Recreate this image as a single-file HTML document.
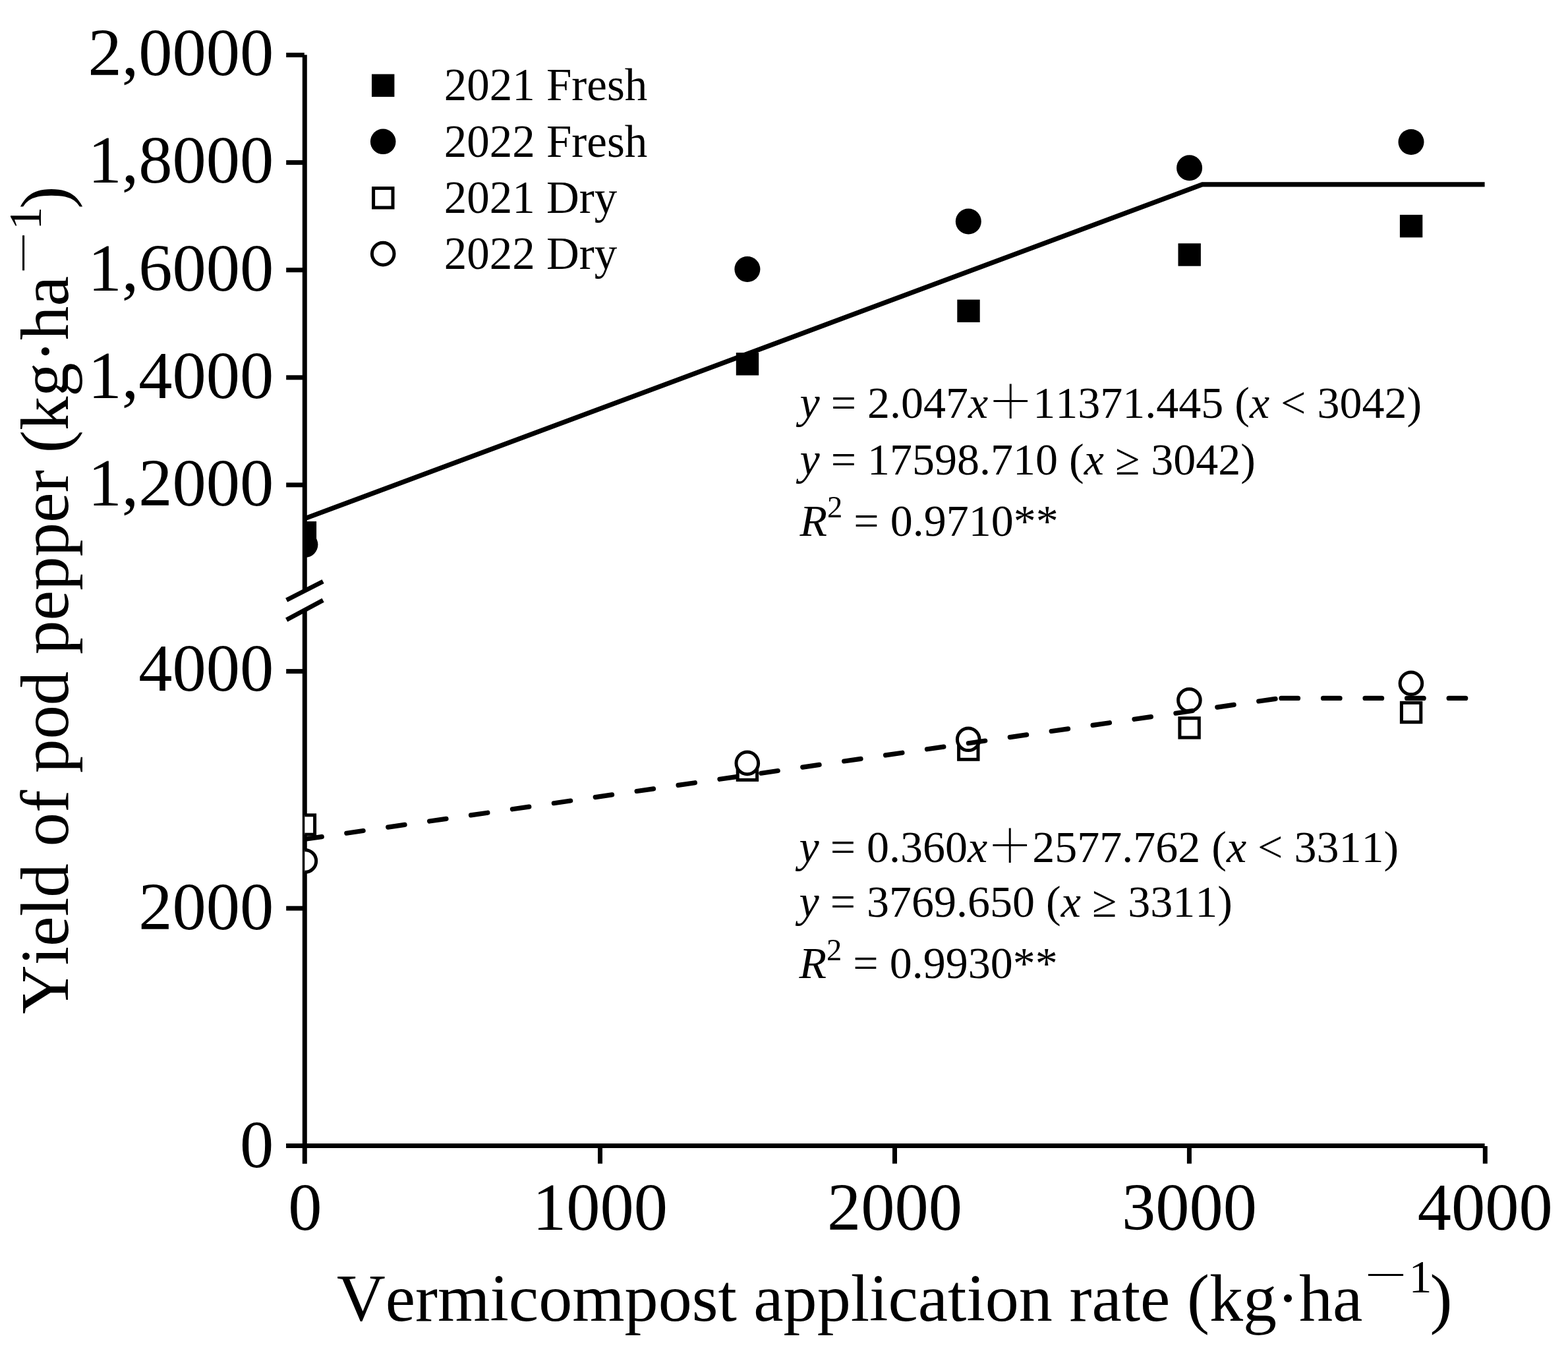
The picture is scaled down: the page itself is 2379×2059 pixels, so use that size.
<!DOCTYPE html><html><head><meta charset="utf-8"><title>Yield of pod pepper vs vermicompost application rate</title>
<style>html,body{margin:0;padding:0;background:#fff;}svg{display:block;}text{font-family:"Liberation Serif","Times New Roman",serif;fill:#000;font-kerning:none;}.cj{font-family:"Noto Serif CJK SC","Liberation Serif",serif;}.it{font-style:italic;}</style></head><body>
<svg width="2379" height="2059" viewBox="0 0 2379 2059">
<rect width="2379" height="2059" fill="#fff"/>
<defs><clipPath id="pc"><rect x="462.3" y="0" width="1837.7" height="1739"/></clipPath></defs>
<g stroke="#000" stroke-width="7" fill="none">
<line x1="462.3" y1="83.3" x2="462.3" y2="896.5"/>
<line x1="462.3" y1="926.5" x2="462.3" y2="1765.7"/>
<line x1="434.2" y1="1738.5" x2="2252.6" y2="1738.5"/>
<line x1="434.2" y1="83.45" x2="461.8" y2="83.45"/>
<line x1="434.2" y1="246.60" x2="461.8" y2="246.60"/>
<line x1="434.2" y1="409.70" x2="461.8" y2="409.70"/>
<line x1="434.2" y1="572.80" x2="461.8" y2="572.80"/>
<line x1="434.2" y1="735.80" x2="461.8" y2="735.80"/>
<line x1="434.2" y1="1018.60" x2="461.8" y2="1018.60"/>
<line x1="434.2" y1="1378.20" x2="461.8" y2="1378.20"/>
<line x1="434.2" y1="1738.50" x2="461.8" y2="1738.50"/>
<line x1="910.5" y1="1739" x2="910.5" y2="1765.6"/>
<line x1="1357.5" y1="1739" x2="1357.5" y2="1765.6"/>
<line x1="1804.4" y1="1739" x2="1804.4" y2="1765.6"/>
<line x1="2253.3" y1="1739" x2="2253.3" y2="1765.6"/>
</g>
<g stroke="#000" stroke-width="6.8" fill="none">
<line x1="434.7" y1="910.5" x2="490.1" y2="882.3"/>
<line x1="434.7" y1="940.5" x2="490.1" y2="910.8"/>
</g>
<g font-size="102.5" text-anchor="end">
<text x="415.3" y="114.2">2,0000</text>
<text x="415.3" y="276.8">1,8000</text>
<text x="415.3" y="441.0">1,6000</text>
<text x="415.3" y="603.9">1,4000</text>
<text x="415.3" y="767.3">1,2000</text>
<text x="415.3" y="1048.0">4000</text>
<text x="415.3" y="1409.5">2000</text>
<text x="415.3" y="1770.8">0</text>
</g>
<g font-size="102.5" text-anchor="middle">
<text x="462.9" y="1865.7">0</text>
<text x="910.5" y="1865.7">1000</text>
<text x="1357.5" y="1865.7">2000</text>
<text x="1804.4" y="1865.7">3000</text>
<text x="2253.3" y="1865.7">4000</text>
</g>
<g clip-path="url(#pc)">
<rect x="445.70" y="791.10" width="34.4" height="34.4" fill="#000"/>
<rect x="1116.80" y="535.10" width="34.4" height="34.4" fill="#000"/>
<rect x="1452.30" y="454.60" width="34.4" height="34.4" fill="#000"/>
<rect x="1787.50" y="369.30" width="34.4" height="34.4" fill="#000"/>
<rect x="2123.90" y="325.90" width="34.4" height="34.4" fill="#000"/>
<rect x="448.20" y="1236.80" width="29.4" height="29.4" fill="#fff" stroke="#000" stroke-width="5"/>
<rect x="1119.20" y="1154.00" width="29.4" height="29.4" fill="#fff" stroke="#000" stroke-width="5"/>
<rect x="1454.60" y="1122.90" width="29.4" height="29.4" fill="#fff" stroke="#000" stroke-width="5"/>
<rect x="1789.90" y="1089.70" width="29.4" height="29.4" fill="#fff" stroke="#000" stroke-width="5"/>
<rect x="2126.40" y="1066.30" width="29.4" height="29.4" fill="#fff" stroke="#000" stroke-width="5"/>
<circle cx="462.90" cy="826.40" r="19.5" fill="#000"/>
<circle cx="1133.90" cy="408.50" r="19.5" fill="#000"/>
<circle cx="1469.30" cy="336.00" r="19.5" fill="#000"/>
<circle cx="1804.60" cy="254.80" r="19.5" fill="#000"/>
<circle cx="2141.00" cy="215.40" r="19.5" fill="#000"/>
<circle cx="462.90" cy="1306.50" r="16.80" fill="#fff" stroke="#000" stroke-width="5"/>
<circle cx="1133.80" cy="1157.90" r="16.80" fill="#fff" stroke="#000" stroke-width="5"/>
<circle cx="1469.20" cy="1121.80" r="16.80" fill="#fff" stroke="#000" stroke-width="5"/>
<circle cx="1804.40" cy="1062.40" r="16.80" fill="#fff" stroke="#000" stroke-width="5"/>
<circle cx="2140.90" cy="1036.80" r="16.80" fill="#fff" stroke="#000" stroke-width="5"/>
<polyline points="462.9,786.7 1824.2,279.9 2252.6,279.9" fill="none" stroke="#000" stroke-width="7.3" stroke-linejoin="miter"/>
<g fill="none" stroke="#000" stroke-width="7.2" stroke-linecap="round" stroke-dasharray="25.6 37.96">
<line x1="462.9" y1="1273.3" x2="1944.9" y2="1058.9"/>
<line x1="1943.9" y1="1059.4" x2="2252.6" y2="1059.4"/>
</g>
</g>
<rect x="564.0" y="112.5" width="34.4" height="34.4" fill="#000"/>
<circle cx="581.2" cy="214.8" r="19.3" fill="#000"/>
<rect x="566.6" y="285.6" width="29.4" height="29.4" fill="#fff" stroke="#000" stroke-width="5"/>
<circle cx="581.2" cy="385.1" r="16.80" fill="#fff" stroke="#000" stroke-width="5"/>
<g font-size="69">
<text x="673.7" y="152.4">2021 Fresh</text>
<text x="673.7" y="237.5">2022 Fresh</text>
<text x="673.7" y="322.6">2021 Dry</text>
<text x="673.7" y="407.7">2022 Dry</text>
</g>
<text x="1213.5" y="633.7" font-size="68"><tspan class="it">y</tspan> = 2.047<tspan class="it">x</tspan><tspan class="cj">＋</tspan>11371.445 (<tspan class="it">x</tspan> &lt; 3042)</text>
<text x="1213.5" y="719.7" font-size="68"><tspan class="it">y</tspan> = 17598.710 (<tspan class="it">x</tspan> ≥ 3042)</text>
<text x="1213.5" y="812.6" font-size="68"><tspan class="it">R</tspan><tspan font-size="46.5" dy="-27.4">2</tspan><tspan dy="27.4"> = 0.9710**</tspan></text>
<text x="1212.5" y="1308.2" font-size="68"><tspan class="it">y</tspan> = 0.360<tspan class="it">x</tspan><tspan class="cj">＋</tspan>2577.762 (<tspan class="it">x</tspan> &lt; 3311)</text>
<text x="1212.5" y="1391.4" font-size="68"><tspan class="it">y</tspan> = 3769.650 (<tspan class="it">x</tspan> ≥ 3311)</text>
<text x="1212.5" y="1484.1" font-size="68"><tspan class="it">R</tspan><tspan font-size="46.5" dy="-27.4">2</tspan><tspan dy="27.4"> = 0.9930**</tspan></text>
<text x="511.0" y="2003.6" font-size="102.1">Vermicompost application rate (kg·ha<tspan class="cj" font-size="70" dy="-42.5">－</tspan><tspan font-size="70">1</tspan><tspan dx="-3" dy="42.5">)</tspan></text>
<text transform="translate(102.9,1538.8) rotate(-90)" x="0" y="0" font-size="102.9">Yield of pod pepper (kg·ha<tspan class="cj" font-size="70" dy="-41.3">－</tspan><tspan font-size="70">1</tspan><tspan dx="-3" dy="41.3">)</tspan></text>
</svg></body></html>
